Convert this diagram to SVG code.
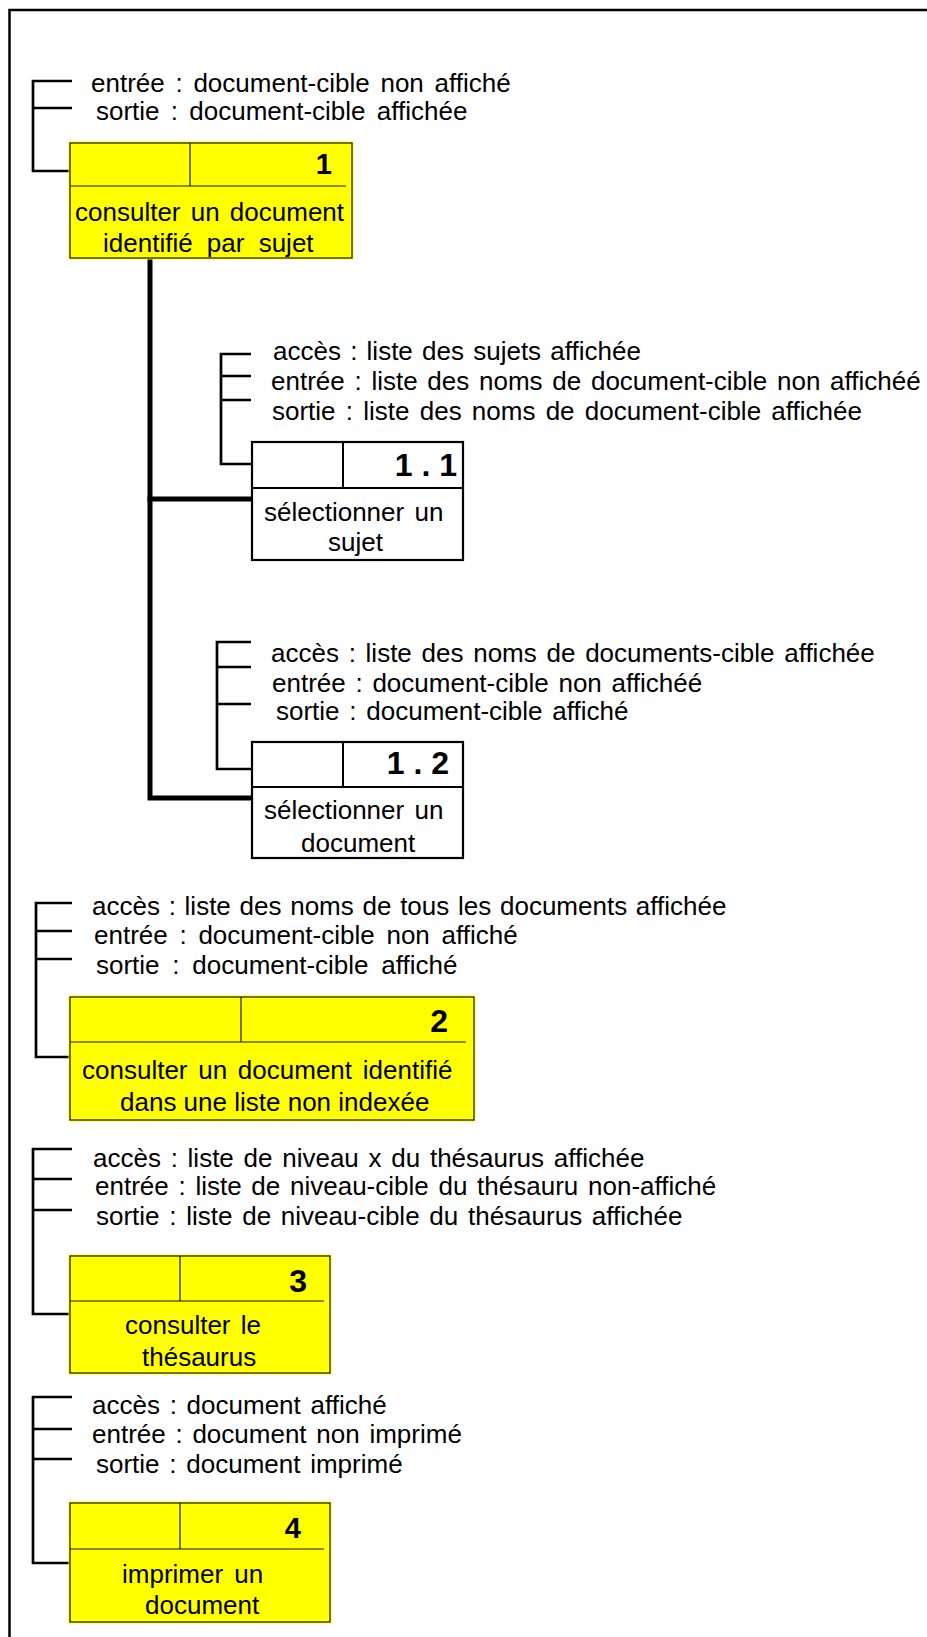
<svg xmlns="http://www.w3.org/2000/svg" width="927" height="1637" viewBox="0 0 927 1637" xml:space="preserve">
  <style>
    .frame { fill: none; stroke: #000; stroke-width: 2.5; }
    .bracket { fill: none; stroke: #000; stroke-width: 2.7; stroke-linejoin: miter; stroke-linecap: butt; }
    .trunk { fill: none; stroke: #000; stroke-width: 5; stroke-linejoin: miter; stroke-linecap: square; }
    .yhalo { fill: #ffff00; stroke: none; }
    .ybox { fill: #ffff00; stroke: #1a1a1a; stroke-width: 1.2; }
    .ydiv { stroke: #1a1a1a; stroke-width: 1.2; }
    .wbox { fill: #fff; stroke: #000; stroke-width: 2.2; }
    .wdiv { stroke: #000; stroke-width: 2; }
    text { font-family: "Liberation Sans", Arial, Helvetica, sans-serif; fill: #000; }
    .p { font-size: 26px; word-spacing: 2.5px; }
    .lbl { font-size: 26px; word-spacing: 3px; }
    .num { font-weight: bold; text-anchor: end; }
  </style>

  <!-- page frame -->
  <path class="frame" d="M9.5,1637 V10 H927"/>

  <!-- hierarchy links and input/output brackets -->
  <g id="connectors">
    <path class="trunk" d="M150,258 V798 H252"/>
    <path class="trunk" d="M150,499 H252"/>

    <path class="bracket" d="M72,81 H33 V171 H70 M33,108 H72"/>
    <path class="bracket" d="M251,354 H221 V464 H252 M221,376 H251 M221,400 H251"/>
    <path class="bracket" d="M251,642 H217 V769 H252 M217,667 H251 M217,704 H251"/>
    <path class="bracket" d="M72,903 H36 V1057 H70 M36,931 H72 M36,959 H72"/>
    <path class="bracket" d="M72,1149 H33 V1314 H70 M33,1179 H72 M33,1210 H72"/>
    <path class="bracket" d="M72,1397 H33 V1563 H70 M33,1429 H72 M33,1459 H72"/>
  </g>

  <!-- 1 -->
  <g id="node-1">
    <text class="p" x="91" y="92" style="word-spacing:3.5px">entrée : document-cible non affiché</text>
    <text class="p" x="96" y="120" style="word-spacing:4px">sortie : document-cible affichée</text>
    <rect class="yhalo" x="68.5" y="141.5" width="285" height="118"/>
    <rect class="ybox" x="70" y="143" width="282" height="115"/>
    <line class="ydiv" x1="70" y1="186" x2="346" y2="186"/>
    <line class="ydiv" x1="190" y1="143" x2="190" y2="186"/>
    <text class="num" x="332" y="174" font-size="29">1</text>
    <text class="lbl" x="75" y="221">consulter un document</text>
    <text class="lbl" x="103" y="252" style="word-spacing:7px">identifié par sujet</text>
  </g>

  <!-- 1.1 -->
  <g id="node-1-1">
    <text class="p" x="273" y="360" style="word-spacing:2px">accès : liste des sujets affichée</text>
    <text class="p" x="271" y="390" style="word-spacing:2.5px">entrée :  liste des noms de document-cible non affichéé</text>
    <text class="p" x="272" y="420" style="word-spacing:3px">sortie : liste des noms de document-cible affichée</text>
    <rect class="wbox" x="252" y="442" width="211" height="118"/>
    <line class="wdiv" x1="252" y1="488" x2="463" y2="488"/>
    <line class="wdiv" x1="343" y1="442" x2="343" y2="488"/>
    <text class="num" x="457" y="476" font-size="32">1 . 1</text>
    <text class="lbl" x="264" y="521">sélectionner un</text>
    <text class="lbl" x="328" y="551">sujet</text>
  </g>

  <!-- 1.2 -->
  <g id="node-1-2">
    <text class="p" x="271" y="662">accès : liste des noms de documents-cible affichée</text>
    <text class="p" x="272" y="692">entrée : document-cible non affichéé</text>
    <text class="p" x="276" y="720">sortie : document-cible affiché</text>
    <rect class="wbox" x="252" y="742" width="211" height="116"/>
    <line class="wdiv" x1="252" y1="787" x2="463" y2="787"/>
    <line class="wdiv" x1="343" y1="742" x2="343" y2="787"/>
    <text class="num" x="449" y="774" font-size="32">1 . 2</text>
    <text class="lbl" x="264" y="819">sélectionner un</text>
    <text class="lbl" x="301" y="852">document</text>
  </g>

  <!-- 2 -->
  <g id="node-2">
    <text class="p" x="92" y="915" style="word-spacing:1.5px">accès : liste des noms de tous les documents affichée</text>
    <text class="p" x="94" y="944" style="word-spacing:4.5px">entrée :  document-cible non affiché</text>
    <text class="p" x="96" y="974" style="word-spacing:5.5px">sortie : document-cible affiché</text>
    <rect class="yhalo" x="68.5" y="995.5" width="407" height="126"/>
    <rect class="ybox" x="70" y="997" width="404" height="123"/>
    <line class="ydiv" x1="70" y1="1042" x2="466" y2="1042"/>
    <line class="ydiv" x1="241" y1="997" x2="241" y2="1042"/>
    <text class="num" x="448" y="1032" font-size="32">2</text>
    <text class="lbl" x="82" y="1079" style="word-spacing:3.5px">consulter un document identifié</text>
    <text class="lbl" x="120" y="1111" style="word-spacing:0px">dans une liste non indexée</text>
  </g>

  <!-- 3 -->
  <g id="node-3">
    <text class="p" x="93" y="1167">accès : liste de niveau x du thésaurus affichée</text>
    <text class="p" x="95" y="1195">entrée : liste de niveau-cible du thésauru non-affiché</text>
    <text class="p" x="96" y="1225">sortie : liste de niveau-cible du thésaurus affichée</text>
    <rect class="yhalo" x="68.5" y="1254.5" width="263" height="120"/>
    <rect class="ybox" x="70" y="1256" width="260" height="117"/>
    <line class="ydiv" x1="70" y1="1301" x2="324" y2="1301"/>
    <line class="ydiv" x1="180" y1="1256" x2="180" y2="1301"/>
    <text class="num" x="307" y="1292" font-size="32">3</text>
    <text class="lbl" x="125" y="1334">consulter le</text>
    <text class="lbl" x="142" y="1366">thésaurus</text>
  </g>

  <!-- 4 -->
  <g id="node-4">
    <text class="p" x="92" y="1414">accès : document affiché</text>
    <text class="p" x="92" y="1443">entrée :  document non imprimé</text>
    <text class="p" x="96" y="1473">sortie : document imprimé</text>
    <rect class="yhalo" x="68.5" y="1501.5" width="263" height="122"/>
    <rect class="ybox" x="70" y="1503" width="260" height="119"/>
    <line class="ydiv" x1="70" y1="1549" x2="324" y2="1549"/>
    <line class="ydiv" x1="180" y1="1503" x2="180" y2="1549"/>
    <text class="num" x="301" y="1538" font-size="29">4</text>
    <text class="lbl" x="122" y="1583" style="word-spacing:4px">imprimer un</text>
    <text class="lbl" x="145" y="1614">document</text>
  </g>
</svg>
